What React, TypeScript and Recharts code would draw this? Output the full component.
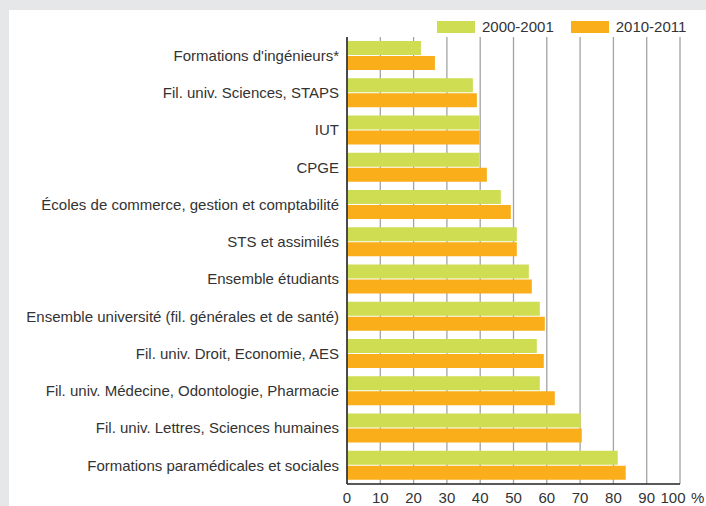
import React from 'react';
import { Bar, BarChart, CartesianGrid, Legend, XAxis, YAxis } from 'recharts';

const categories = [
  "Formations d'ingénieurs*",
  'Fil. univ. Sciences, STAPS',
  'IUT',
  'CPGE',
  'Écoles de commerce, gestion et comptabilité',
  'STS et assimilés',
  'Ensemble étudiants',
  'Ensemble université (fil. générales et de santé)',
  'Fil. univ. Droit, Economie, AES',
  'Fil. univ. Médecine, Odontologie, Pharmacie',
  'Fil. univ. Lettres, Sciences humaines',
  'Formations paramédicales et sociales',
];

const values2000 = [22.2, 37.8, 39.7, 39.7, 46.2, 51.0, 54.6, 57.9, 57.0, 57.9, 70.2, 81.3];
const values2010 = [26.4, 39.0, 39.8, 42.0, 49.2, 51.0, 55.5, 59.4, 59.1, 62.4, 70.5, 83.7];

const xTicks = [0, 10, 20, 30, 40, 50, 60, 70, 80, 90, 100];

const seriesNames = ['2000-2001', '2010-2011'];
const GREEN = '#cedd52';
const ORANGE = '#f9ae1a';
const FONT = '"Liberation Sans", Arial, Helvetica, sans-serif';

const data = categories.map((name, i) => ({
  name,
  a: values2000[i],
  b: values2010[i],
}));

function XTick(props: any) {
  const { x, y, payload } = props;
  const v = payload.value;
  if (v === 100) {
    return (
      <g>
        <text x={x - 7} y={y + 11} fontSize={15} fill="#333" fontFamily={FONT} textAnchor="middle">
          100
        </text>
        <text x={x + 11} y={y + 11} fontSize={15} fill="#333" fontFamily={FONT} textAnchor="start">
          %
        </text>
      </g>
    );
  }
  return (
    <text x={x} y={y + 11} fontSize={15} fill="#333" fontFamily={FONT} textAnchor="middle">
      {v}
    </text>
  );
}

function LegendContent() {
  const items = [
    { label: seriesNames[0], color: GREEN },
    { label: seriesNames[1], color: ORANGE },
  ];
  return (
    <div style={{ display: 'flex', alignItems: 'center', fontFamily: FONT, fontSize: 15, color: '#333' }}>
      {items.map((it) => (
        <div key={it.label} style={{ display: 'flex', alignItems: 'center', marginRight: 17 }}>
          <span style={{ display: 'inline-block', width: 38, height: 12, background: it.color, marginRight: 7 }} />
          <span>{it.label}</span>
        </div>
      ))}
    </div>
  );
}

export default function App() {
  return (
    <div style={{ position: 'absolute', left: 0, top: 0, width: 706, height: 506, background: '#e6e7e8' }}>
      <div style={{ position: 'absolute', left: 9, top: 10, width: 697, height: 496, background: '#fff' }} />
      <div style={{ position: 'absolute', left: 0, top: 0 }}>
        <BarChart
          width={706}
          height={506}
          data={data}
          layout="vertical"
          margin={{ top: 37, right: 26, bottom: 0, left: 0 }}
          barSize={14}
          barGap={1}
        >
          <CartesianGrid horizontal={false} stroke="#a3a3a3" strokeWidth={1.3} />
          <XAxis
            type="number"
            domain={[0, 100]}
            ticks={xTicks}
            interval={0}
            tickLine={false}
            axisLine={{ stroke: '#222', strokeWidth: 1.5 }}
            tick={<XTick />}
            height={22}
          />
          <YAxis
            type="category"
            dataKey="name"
            width={347}
            interval={0}
            tickLine={false}
            axisLine={{ stroke: '#222', strokeWidth: 1.5 }}
            tick={{ fontSize: 15, fill: '#333', fontFamily: FONT }}
          />
          <Legend
            layout="horizontal"
            verticalAlign="middle"
            align="center"
            content={<LegendContent />}
            wrapperStyle={{ position: 'absolute', left: 437, top: 18, width: 'auto' }}
          />
          <Bar dataKey="a" name={seriesNames[0]} fill={GREEN} isAnimationActive={false} />
          <Bar dataKey="b" name={seriesNames[1]} fill={ORANGE} isAnimationActive={false} />
        </BarChart>
      </div>
    </div>
  );
}
